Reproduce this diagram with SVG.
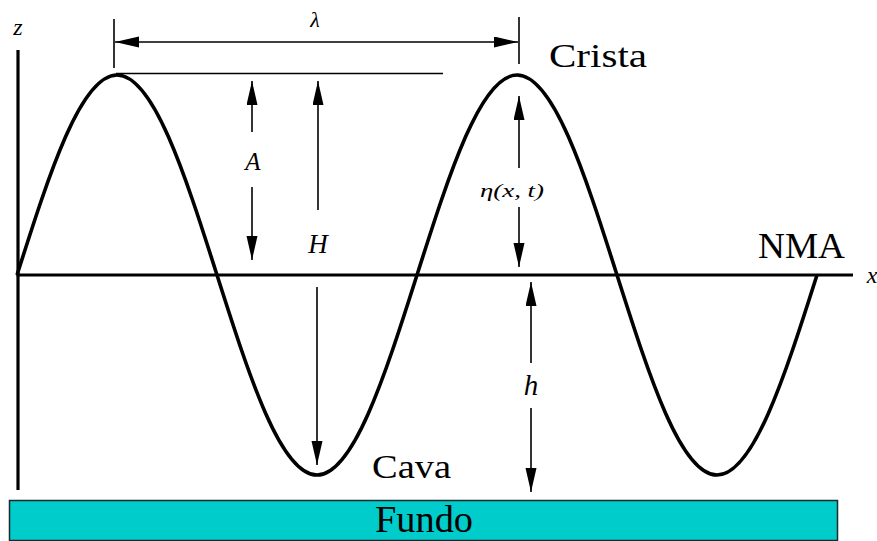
<svg xmlns="http://www.w3.org/2000/svg" width="877" height="541" viewBox="0 0 877 541">
<defs>
<marker id="ah" markerUnits="userSpaceOnUse" markerWidth="24" markerHeight="12" refX="24" refY="5.5" orient="auto-start-reverse">
<path d="M0,0 L24,5.5 L0,11 z" fill="#000"/>
</marker>
</defs>
<style>
.dim{stroke:#000;stroke-width:1.6;fill:none}
.arr{stroke:#000;stroke-width:1.6;fill:none;marker-end:url(#ah)}
.ax{stroke:#000;stroke-width:3.2;fill:none}
.wave{stroke:#000;stroke-width:3.6;fill:none}
.math{font-family:"Liberation Serif","DejaVu Serif",serif;font-style:italic;fill:#000;text-anchor:middle}
.word{font-family:"Liberation Serif","DejaVu Serif",serif;fill:#000}
</style>
<rect width="877" height="541" fill="#fff"/>
<g id="fundo">
<rect x="9.5" y="500.5" width="828" height="40" fill="#00CCCC" stroke="#1a2a2a" stroke-width="1.5"/>
<text class="word" x="424" y="532" font-size="38" text-anchor="middle" fill="#0a1a1a" textLength="98" lengthAdjust="spacingAndGlyphs">Fundo</text>
</g>
<g id="axes">
<line class="ax" x1="18" y1="50" x2="18" y2="490"/>
<line class="ax" x1="16.5" y1="275" x2="853" y2="275"/>
<text class="math" x="18" y="35" font-size="24">z</text>
<text class="math" x="872" y="283" font-size="24">x</text>
</g>
<g id="wave">
<path class="wave" d="M17,275 C49.6,172.5 80.85,75 117,75 C153.15,75 184.4,172.5 217,275 C249.6,377.5 280.85,475 317,475 C353.15,475 384.4,377.5 417,275 C449.6,172.5 480.85,75 517,75 C553.15,75 584.4,172.5 617,275 C649.6,377.5 680.85,475 717,475 C753.15,475 784.4,377.5 817,275"/>
</g>
<g id="connectors">
<line class="dim" x1="114" y1="19" x2="114" y2="68"/>
<line class="dim" x1="519" y1="17" x2="519" y2="64"/>
<line class="dim" x1="115" y1="42" x2="518" y2="42" style="marker-start:url(#ah);marker-end:url(#ah)"/>
<line class="dim" x1="116" y1="73.5" x2="443" y2="73.5"/>
<line class="arr" x1="252" y1="132" x2="252" y2="81"/>
<line class="arr" x1="252" y1="187" x2="252" y2="260"/>
<line class="arr" x1="318" y1="210" x2="318" y2="81"/>
<line class="arr" x1="317" y1="287" x2="317" y2="465"/>
<line class="arr" x1="519" y1="168" x2="519" y2="96"/>
<line class="arr" x1="519" y1="207" x2="519" y2="267"/>
<line class="arr" x1="531" y1="363" x2="531" y2="282"/>
<line class="arr" x1="531" y1="408" x2="531" y2="492"/>
</g>
<g id="lambda"><text class="math" x="315" y="27" font-size="22">λ</text></g>
<g id="label-A"><text class="math" x="253" y="170" font-size="25">A</text></g>
<g id="label-H"><text class="math" x="318" y="253" font-size="27">H</text></g>
<g id="label-eta"><text class="math" x="512" y="197" font-size="19" textLength="64" lengthAdjust="spacingAndGlyphs">η(x, t)</text></g>
<g id="label-h"><text class="math" x="531" y="395" font-size="29">h</text></g>
<g id="crista"><text class="word" x="549" y="67" font-size="34" textLength="98" lengthAdjust="spacingAndGlyphs">Crista</text></g>
<g id="nma"><text class="word" x="758" y="258" font-size="36" textLength="87" lengthAdjust="spacingAndGlyphs">NMA</text></g>
<g id="cava"><text class="word" x="372" y="478" font-size="34" textLength="79" lengthAdjust="spacingAndGlyphs">Cava</text></g>
</svg>
